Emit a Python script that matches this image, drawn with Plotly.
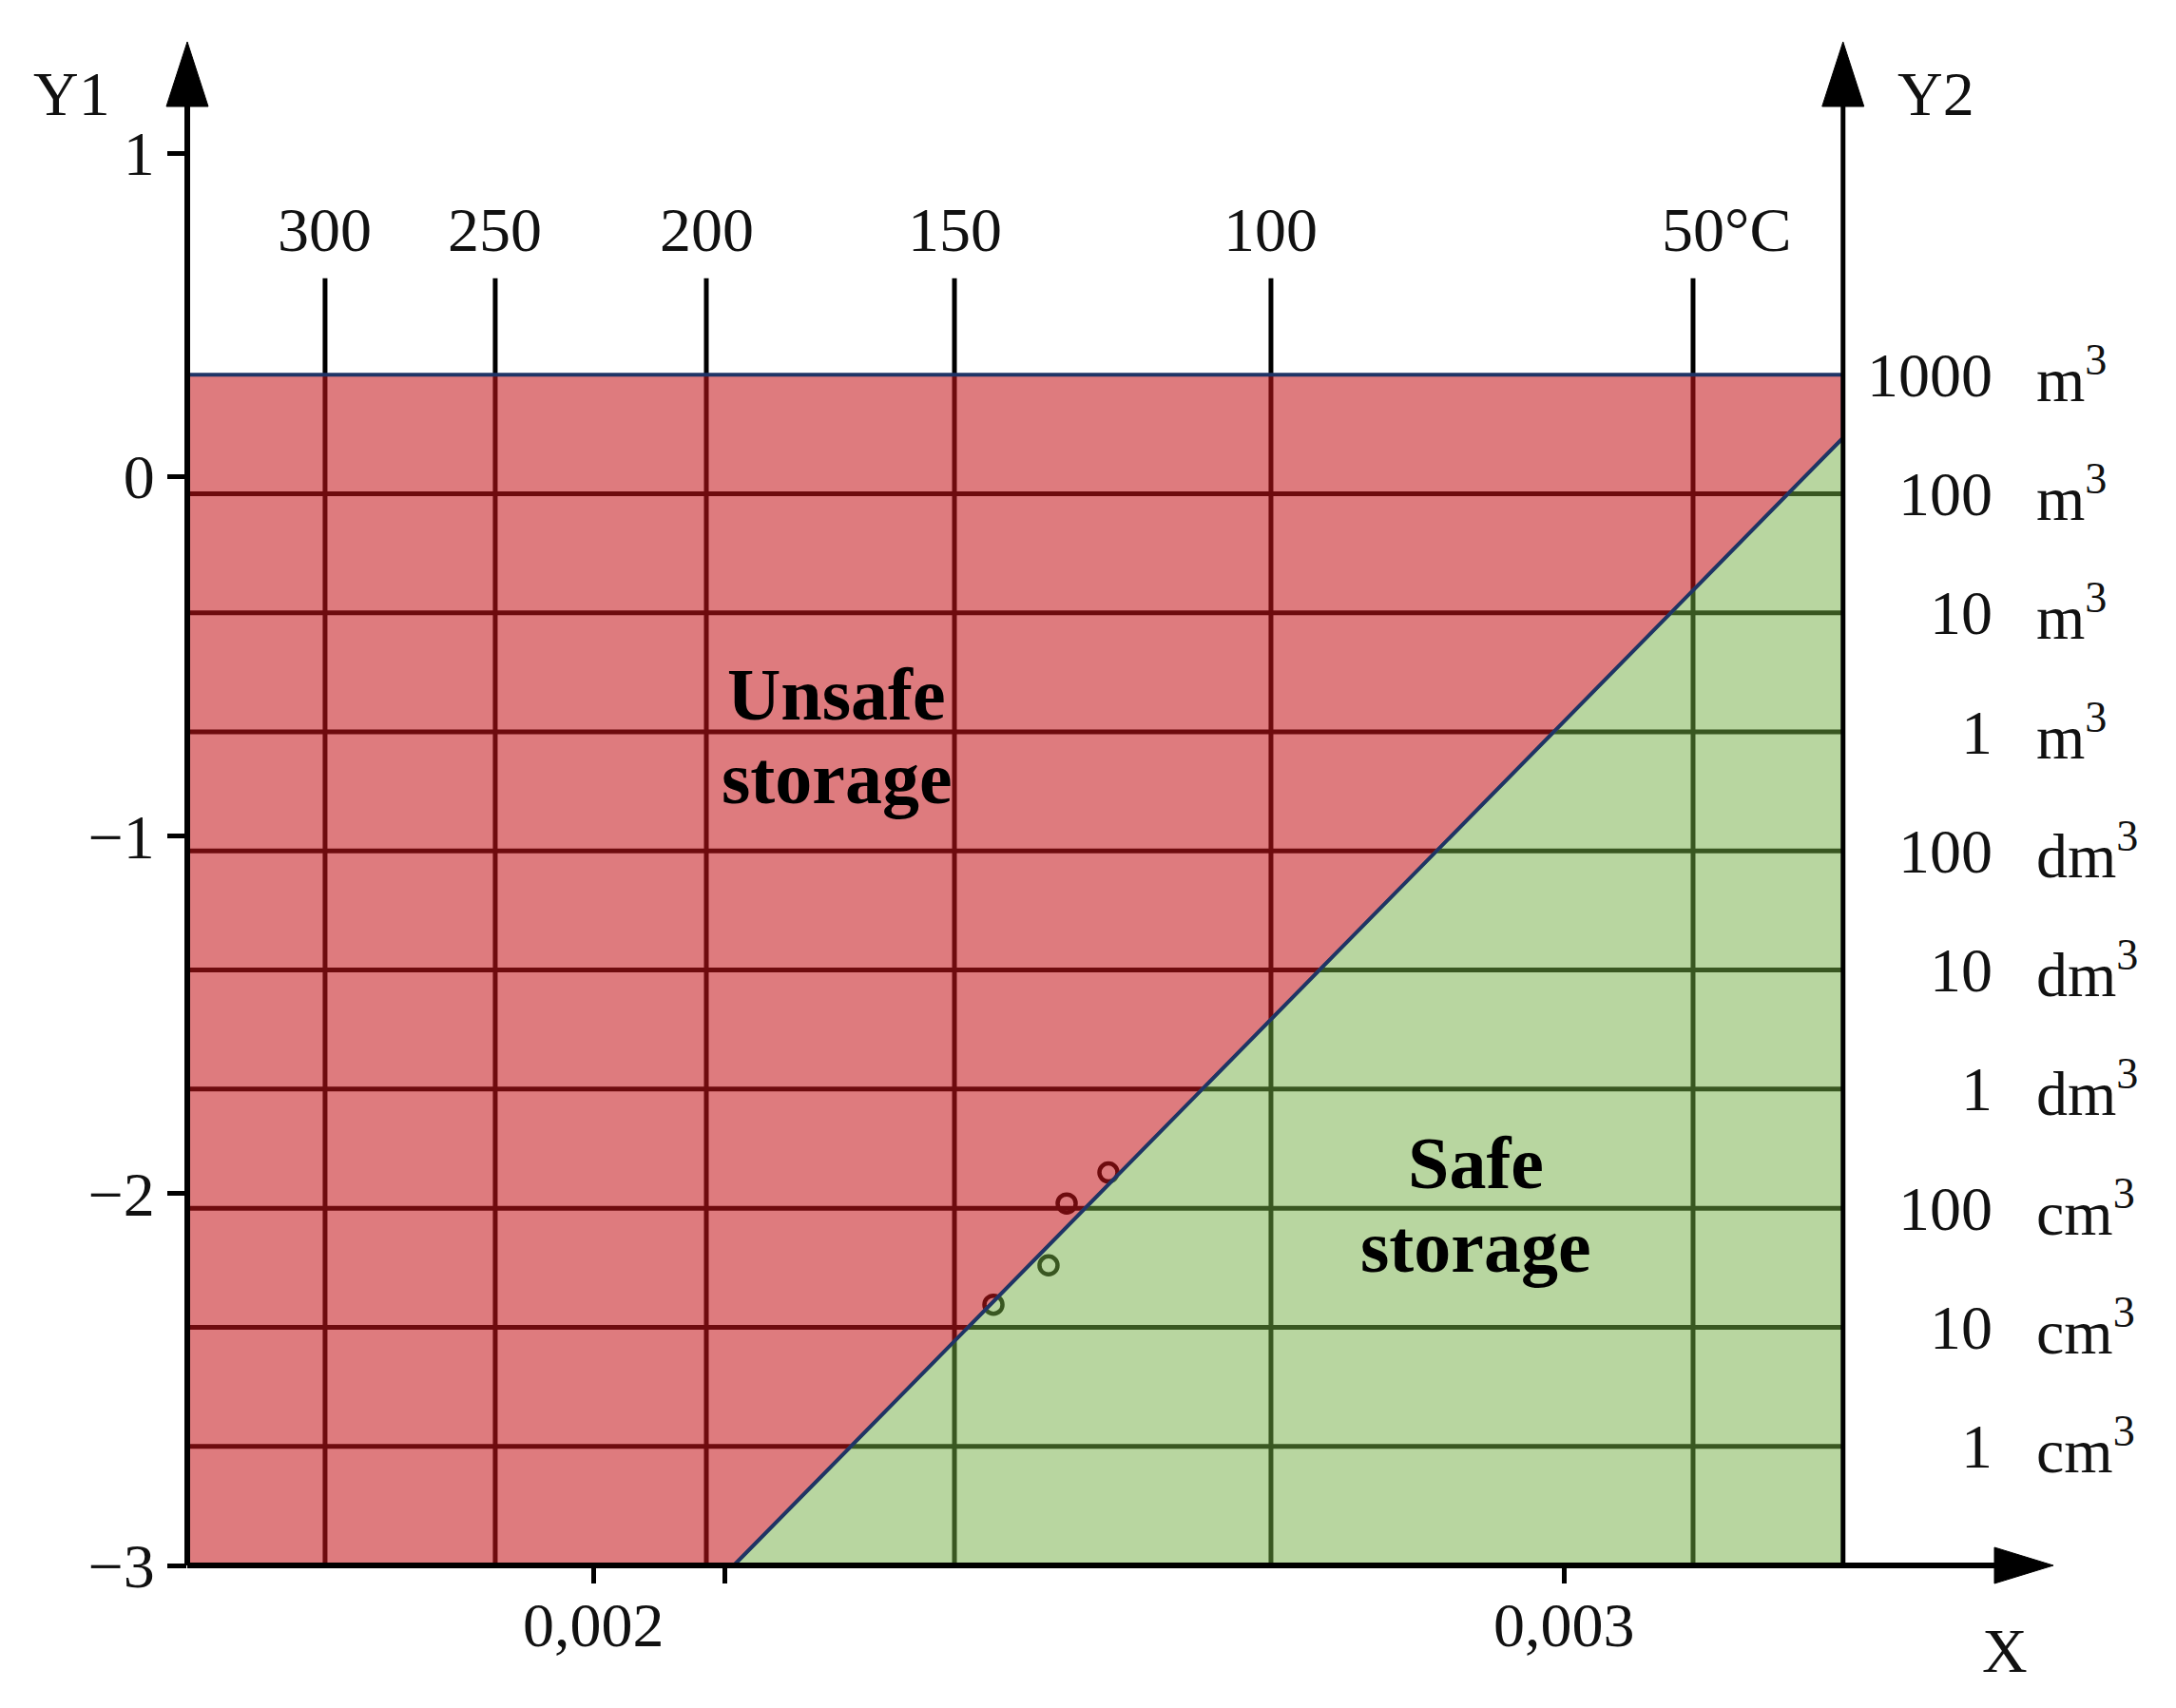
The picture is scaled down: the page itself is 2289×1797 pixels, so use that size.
import plotly.graph_objects as go

# x = 1/T (K^-1), y = log10 of stored volume in m3 (one grid row = one decade)
x_ticks = [0.002, 0.002135, 0.003]
x_tick_text = ["0,002", "", "0,003"]

temp_x = [0.0017225, 0.0018980, 0.0021157, 0.0023716, 0.0026980, 0.0031333]
temp_text = ["300", "250", "200", "150", "100", "50°C"]

vol_y = [3, 2, 1, 0, -1, -2, -3, -4, -5, -6]
vol_num = ["1000", "100", "10", "1", "100", "10", "1", "100", "10", "1"]
vol_unit = ["m", "m", "m", "m", "dm", "dm", "dm", "cm", "cm", "cm"]

y1_pos = [4.86, 2.145, -0.874, -3.877, -7.0]
y1_text = ["1", "0", "−1", "−2", "−3"]

# critical line between unsafe and safe storage
boundary_x = [0.002144, 0.003288]
boundary_y = [-7.0, 2.47]

point_x = [0.0024118, 0.0024686, 0.0024873, 0.0025304]
point_y = [-4.81, -4.48, -3.96, -3.70]

FONT = "Liberation Serif"
W, H = 2289, 1797
# page body adds 8px on the left/top
ML, MR, MT, MB = 189, 132, 32, 158
PW, PH = W - ML - MR, H - MT - MB
xr = [0.0015804, 0.0035098]
yr = [-7.0, 5.827]
y_top_region = 3.0
y_tick_top = 3.81
x_left = xr[0]
x_right = boundary_x[1]


def paper_x(v):
    return (v - xr[0]) / (xr[1] - xr[0])


fig = go.Figure()

# black grid, later tinted by the translucent regions
gx, gy = [], []
for t in temp_x:
    gx += [t, t, None]
    gy += [y_tick_top, yr[0], None]
for v in vol_y[1:]:
    gx += [x_left, x_right, None]
    gy += [v, v, None]
fig.add_trace(go.Scatter(x=gx, y=gy, mode="lines",
                         line=dict(color="black", width=5), hoverinfo="skip"))

# measured points
fig.add_trace(go.Scatter(x=point_x, y=point_y, mode="markers",
                         marker=dict(symbol="circle-open", size=19, color="black",
                                     line=dict(color="black", width=4.5)),
                         hoverinfo="skip"))

# safe region (green)
fig.add_trace(go.Scatter(
    x=[boundary_x[0], boundary_x[1], boundary_x[1], boundary_x[0]],
    y=[boundary_y[0], boundary_y[1], yr[0], boundary_y[0]],
    mode="lines", fill="toself", fillcolor="rgba(113,173,65,0.5)",
    line=dict(color="#6cbf45", width=3.5), hoverinfo="skip"))

# unsafe region (red)
fig.add_trace(go.Scatter(
    x=[x_left, x_right, x_right, boundary_x[0], x_left, x_left],
    y=[y_top_region, y_top_region, boundary_y[1], boundary_y[0], yr[0], y_top_region],
    mode="lines", fill="toself", fillcolor="rgba(196,19,25,0.56)",
    line=dict(color="#1f3466", width=4), hoverinfo="skip"))

# axis lines with arrow heads (paper coords)
dxp, dyp = 1 / PW, 1 / PH
tip = 1 - 4 * dyp
head_len, head_w = 68, 22
x2 = paper_x(x_right)
shapes = []
for xp in [0, x2]:
    shapes.append(dict(type="line", xref="paper", yref="paper", x0=xp, x1=xp,
                       y0=0, y1=tip - head_len * dyp + 2 * dyp,
                       line=dict(color="black", width=6 if xp == 0 else 5)))
    shapes.append(dict(type="path", xref="paper", yref="paper",
                       path=f"M {xp},{tip} L {xp - head_w * dxp},{tip - head_len * dyp} "
                            f"L {xp + head_w * dxp},{tip - head_len * dyp} Z",
                       fillcolor="black", line=dict(color="black", width=1)))
xtip = 1 - 5 * dxp
shapes.append(dict(type="line", xref="paper", yref="paper", x0=0, x1=xtip - 60 * dxp,
                   y0=0, y1=0, line=dict(color="black", width=6)))
shapes.append(dict(type="path", xref="paper", yref="paper",
                   path=f"M {xtip},0 L {xtip - 62 * dxp},{19 * dyp} L {xtip - 62 * dxp},{-19 * dyp} Z",
                   fillcolor="black", line=dict(color="black", width=1)))

txt = dict(family=FONT, size=66, color="#111")
annotations = []
for t, s in zip(temp_x, temp_text):
    annotations.append(dict(x=t, y=4.22, xref="x", yref="y", text=s, showarrow=False,
                            xanchor="center", yanchor="middle",
                            xshift=35 if "C" in s else 0, font=txt))
for v, n, u in zip(vol_y, vol_num, vol_unit):
    annotations.append(dict(x=0.0034441, y=v, xref="x", yref="y", text=n, showarrow=False,
                            xanchor="right", yanchor="middle", font=txt))
    annotations.append(dict(x=0.0034853, y=v, xref="x", yref="y", text=u + "<sup>3</sup>",
                            showarrow=False, xanchor="left", yanchor="middle", font=txt))
# x tick labels sit closer to the axis than plotly's default standoff
for xv, s in zip(x_ticks, x_tick_text):
    if s:
        annotations.append(dict(x=xv, y=-62 * dyp, xref="x", yref="paper", text=s,
                                showarrow=False, xanchor="center", yanchor="middle", font=txt))
for s, xp, yp in [("Y1", -0.0615, 0.9633), ("Y2", 0.9345, 0.9633), ("X", 0.9715, -0.056)]:
    annotations.append(dict(x=xp, y=yp, xref="paper", yref="paper", text=s, showarrow=False,
                            xanchor="center", yanchor="middle", font=txt))
big = dict(family=FONT, size=78, color="black")
for s, xv, yv in [("Unsafe", 0.00225, 0.316), ("storage", 0.00225, -0.383),
                  ("Safe", 0.002909, -3.62), ("storage", 0.002909, -4.32)]:
    annotations.append(dict(x=xv, y=yv, xref="x", yref="y", text=f"<b>{s}</b>",
                            showarrow=False, xanchor="center", yanchor="middle", font=big))

fig.update_layout(
    width=W, height=H,
    margin=dict(l=ML, r=MR, t=MT, b=MB),
    paper_bgcolor="white", plot_bgcolor="white",
    showlegend=False, hovermode=False,
    shapes=shapes, annotations=annotations,
    xaxis=dict(range=xr, showgrid=False, zeroline=False, showline=False,
               tickvals=x_ticks, ticktext=["", "", ""], ticks="outside",
               ticklen=18, tickwidth=5, tickcolor="black", tickfont=txt),
    yaxis=dict(range=yr, showgrid=False, zeroline=False, showline=False,
               tickvals=y1_pos, ticktext=y1_text, ticks="outside",
               ticklen=20, tickwidth=5, tickcolor="black", tickfont=txt),
)

fig.write_html("out.html")
